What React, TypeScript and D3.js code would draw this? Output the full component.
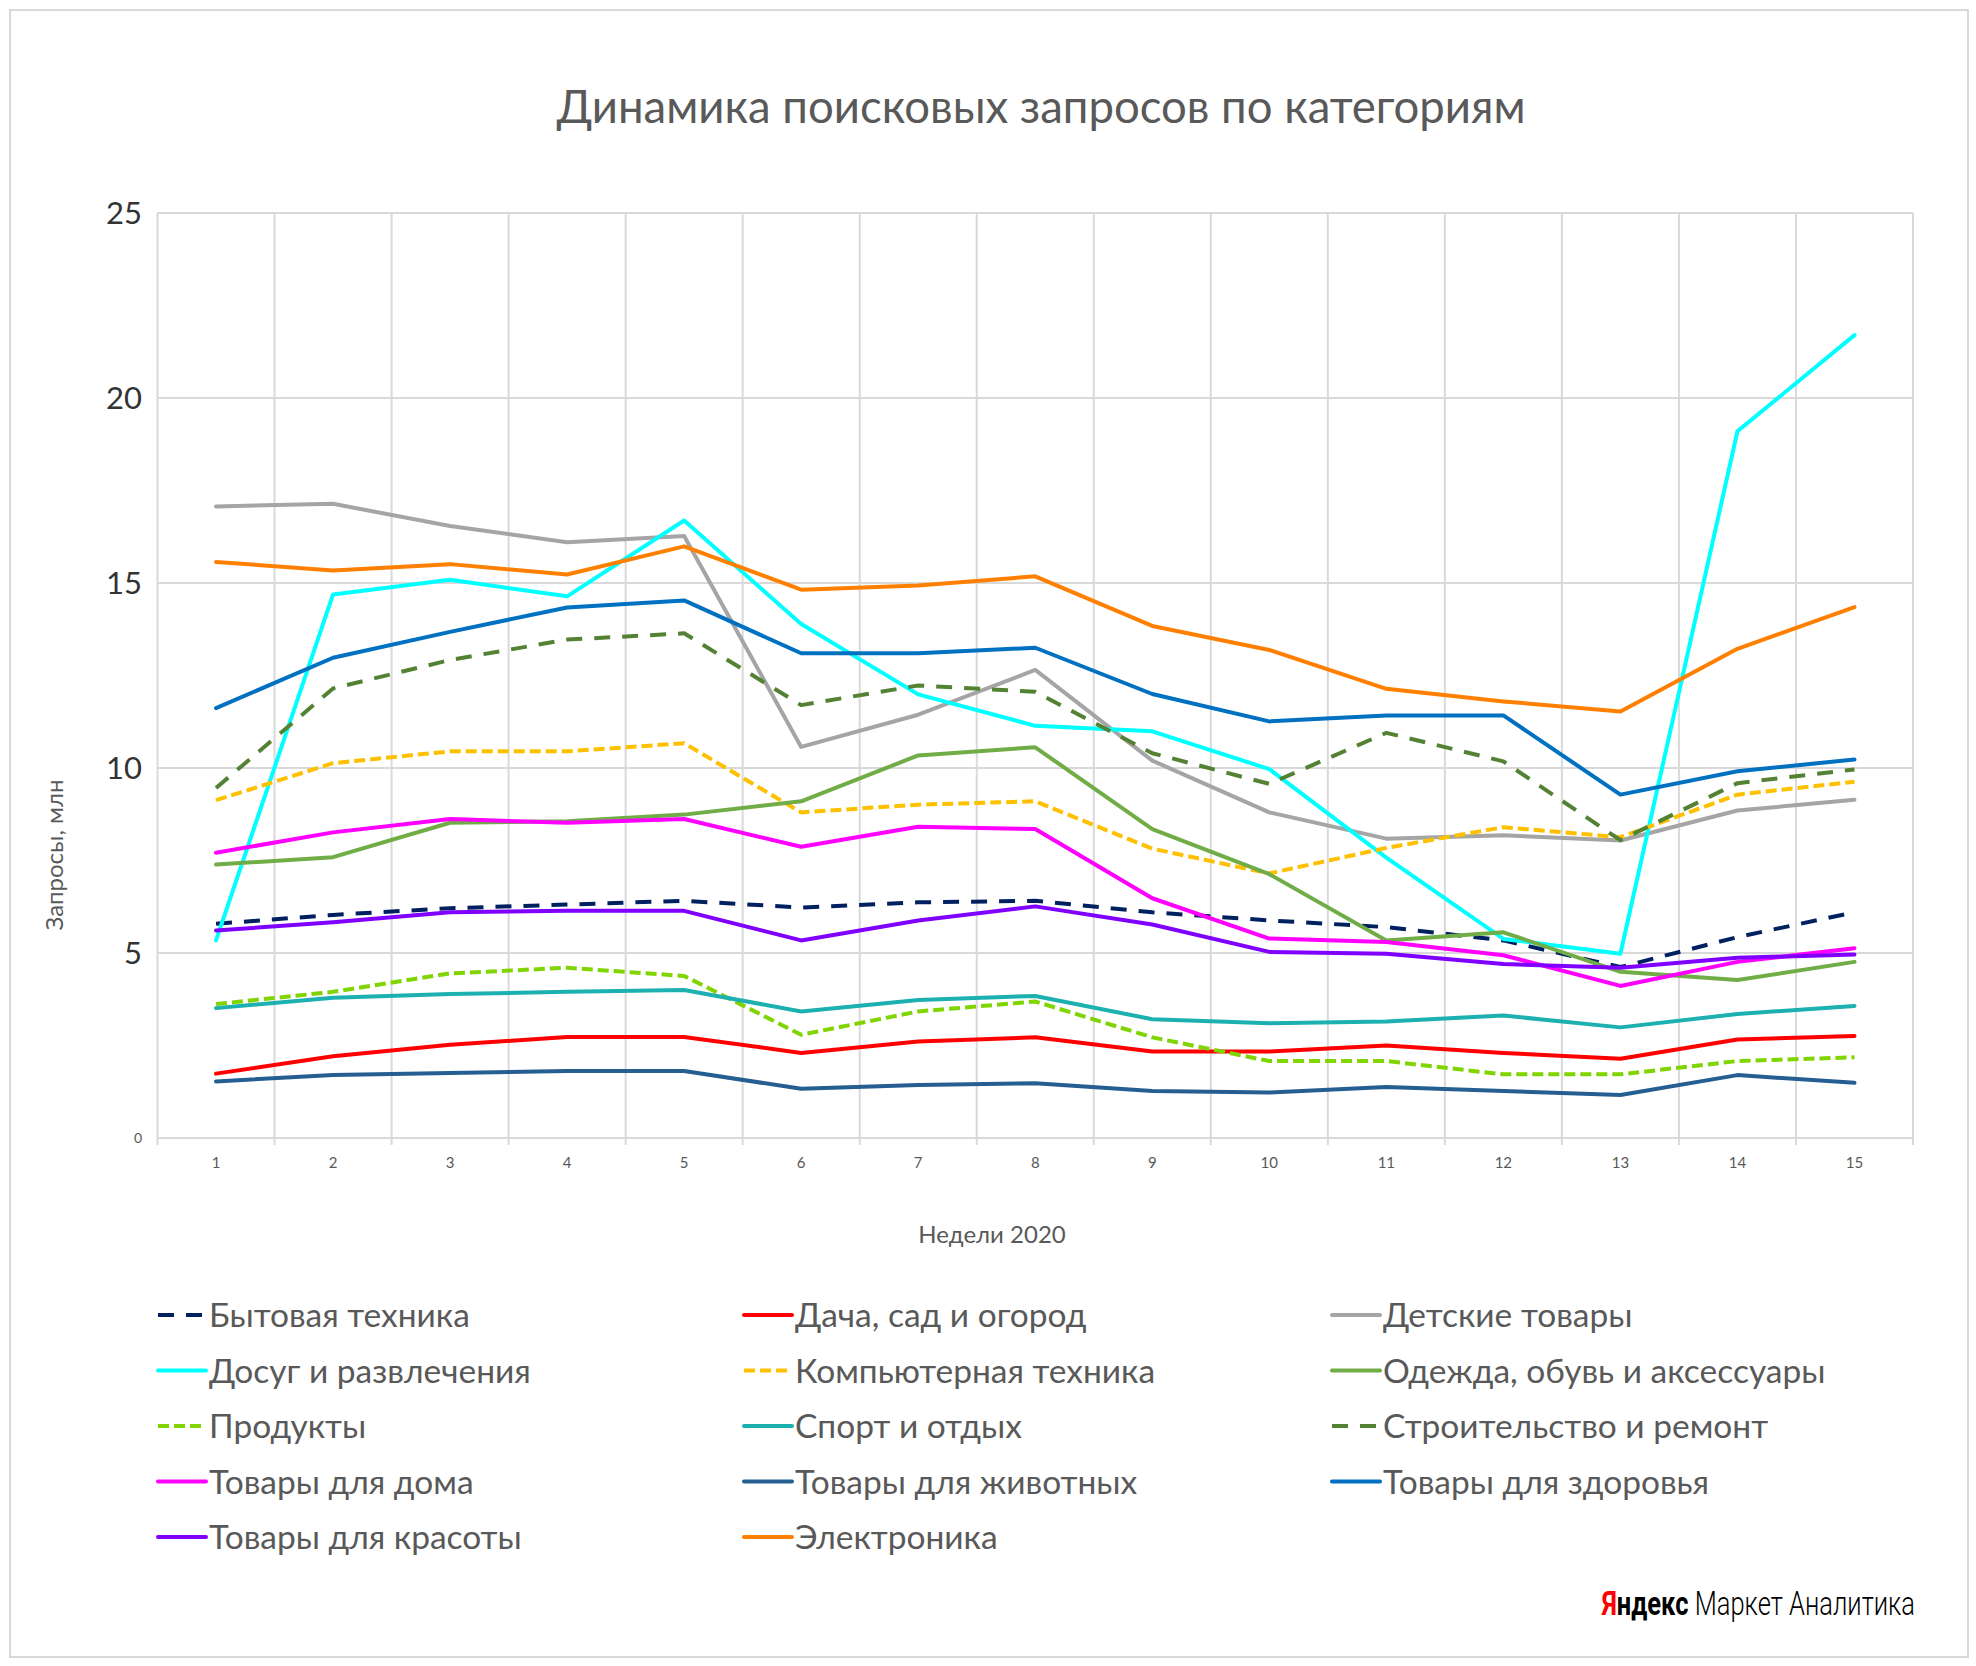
import React, { useRef, useEffect } from "react";
import * as d3 from "d3";

// weeks of 2020 on the x axis
const weeks = ["1", "2", "3", "4", "5", "6", "7", "8", "9", "10", "11", "12", "13", "14", "15"];
const yTicks = [0, 5, 10, 15, 20, 25];

// search queries, mln
const bytovaya = [5.79, 6.03, 6.21, 6.31, 6.41, 6.23, 6.37, 6.41, 6.1, 5.88, 5.7, 5.34, 4.62, 5.43, 6.1];
const dacha = [1.74, 2.21, 2.52, 2.73, 2.73, 2.3, 2.61, 2.72, 2.34, 2.34, 2.5, 2.3, 2.14, 2.66, 2.76];
const detskie = [17.07, 17.14, 16.54, 16.1, 16.27, 10.57, 11.44, 12.65, 10.2, 8.8, 8.09, 8.18, 8.04, 8.85, 9.14];
const dosug = [5.34, 14.69, 15.09, 14.64, 16.69, 13.89, 11.99, 11.14, 10.99, 9.97, 7.58, 5.38, 4.98, 19.1, 21.7];
const komp = [9.13, 10.13, 10.45, 10.45, 10.67, 8.8, 9.01, 9.1, 7.82, 7.15, 7.84, 8.4, 8.13, 9.28, 9.63];
const odezhda = [7.39, 7.59, 8.52, 8.56, 8.74, 9.1, 10.34, 10.56, 8.35, 7.13, 5.34, 5.56, 4.49, 4.27, 4.76];
const produkty = [3.62, 3.95, 4.45, 4.6, 4.38, 2.79, 3.42, 3.69, 2.72, 2.08, 2.08, 1.72, 1.72, 2.08, 2.18];
const sport = [3.51, 3.79, 3.89, 3.95, 4.0, 3.42, 3.73, 3.84, 3.21, 3.1, 3.15, 3.31, 2.99, 3.35, 3.57];
const stroika = [9.46, 12.15, 12.92, 13.47, 13.64, 11.7, 12.23, 12.06, 10.4, 9.57, 10.95, 10.18, 8.05, 9.59, 9.96];
const dom = [7.71, 8.26, 8.62, 8.52, 8.62, 7.87, 8.41, 8.35, 6.48, 5.39, 5.3, 4.94, 4.11, 4.76, 5.13];
const zhivotnye = [1.53, 1.7, 1.76, 1.81, 1.81, 1.33, 1.43, 1.48, 1.27, 1.23, 1.38, 1.27, 1.16, 1.7, 1.49];
const zdorovie = [11.62, 12.98, 13.68, 14.34, 14.53, 13.1, 13.1, 13.25, 12.0, 11.26, 11.42, 11.42, 9.28, 9.91, 10.23];
const krasota = [5.61, 5.83, 6.1, 6.14, 6.14, 5.34, 5.88, 6.26, 5.77, 5.03, 4.98, 4.7, 4.6, 4.87, 4.96];
const elektronika = [15.57, 15.34, 15.51, 15.23, 15.99, 14.82, 14.93, 15.18, 13.84, 13.19, 12.14, 11.8, 11.53, 13.22, 14.35];

const seriesNames = [
  "Бытовая техника",
  "Дача, сад и огород",
  "Детские товары",
  "Досуг и развлечения",
  "Компьютерная техника",
  "Одежда, обувь и аксессуары",
  "Продукты",
  "Спорт и отдых",
  "Строительство и ремонт",
  "Товары для дома",
  "Товары для животных",
  "Товары для здоровья",
  "Товары для красоты",
  "Электроника",
];
const seriesValues = [
  bytovaya, dacha, detskie, dosug, komp, odezhda, produkty,
  sport, stroika, dom, zhivotnye, zdorovie, krasota, elektronika,
];

const colors = [
  "#002060", "#FF0000", "#A5A5A5", "#00FFFF", "#FFC000", "#70AD47", "#80D400",
  "#1CB0B0", "#548235", "#FF00FF", "#255E91", "#0070C0", "#8000FF", "#FF8000",
];
const longDash = "16 12";
const shortDash = "11 5";
const dashes = [
  longDash, null, null, null, shortDash, null, shortDash,
  null, longDash, null, null, null, null, null,
];

const W = 1976;
const H = 1666;
const plot = { left: 157.5, right: 1913, top: 213, bottom: 1138 };
const font = "Lato, 'Noto Sans', sans-serif";
const textGrey = "#595959";

const App: React.FC = () => {
  const svgRef = useRef<SVGSVGElement | null>(null);

  useEffect(() => {
    if (!svgRef.current) return;
    const svg = d3.select(svgRef.current);
    svg.selectAll("*").remove();

    const x = d3.scaleBand<string>().domain(weeks).range([plot.left, plot.right]);
    const y = d3.scaleLinear().domain([0, 25]).range([plot.bottom, plot.top]);

    // outer frame
    svg.append("rect")
      .attr("x", 10).attr("y", 10)
      .attr("width", 1958).attr("height", 1647)
      .attr("fill", "#fff")
      .attr("stroke", "#D9D9D9")
      .attr("stroke-width", 2);

    svg.append("text")
      .attr("x", 1041).attr("y", 123)
      .attr("text-anchor", "middle")
      .attr("font-family", font)
      .attr("font-size", 45.5)
      .attr("fill", textGrey)
      .text("Динамика поисковых запросов по категориям");

    const grid = svg.append("g").attr("stroke", "#D9D9D9").attr("stroke-width", 2);

    // horizontal grid
    grid.selectAll("line.h")
      .data(yTicks)
      .enter()
      .append("line")
      .attr("x1", plot.left).attr("x2", plot.right)
      .attr("y1", (d) => y(d)).attr("y2", (d) => y(d));

    // vertical grid at band edges, with small ticks under the axis
    const edges = weeks.map((w) => x(w) as number).concat([plot.right]);
    grid.selectAll("line.v")
      .data(edges)
      .enter()
      .append("line")
      .attr("x1", (d) => d).attr("x2", (d) => d)
      .attr("y1", plot.top).attr("y2", plot.bottom + 7);

    // y tick labels (0 is drawn small, like the original)
    svg.append("g")
      .selectAll("text")
      .data(yTicks)
      .enter()
      .append("text")
      .attr("x", 142)
      .attr("y", (d) => y(d))
      .attr("dy", "0.36em")
      .attr("text-anchor", "end")
      .attr("font-family", font)
      .attr("font-size", (d) => (d === 0 ? 14 : 31))
      .attr("fill", (d) => (d === 0 ? textGrey : "#333"))
      .text((d) => d);

    // x tick labels
    svg.append("g")
      .selectAll("text")
      .data(weeks)
      .enter()
      .append("text")
      .attr("x", (d) => (x(d) as number) + x.bandwidth() / 2)
      .attr("y", 1168)
      .attr("text-anchor", "middle")
      .attr("font-family", font)
      .attr("font-size", 15)
      .attr("fill", textGrey)
      .text((d) => d);

    svg.append("text")
      .attr("transform", "translate(63,855) rotate(-90)")
      .attr("text-anchor", "middle")
      .attr("font-family", font)
      .attr("font-size", 24)
      .attr("fill", textGrey)
      .text("Запросы, млн");

    svg.append("text")
      .attr("x", 992).attr("y", 1243)
      .attr("text-anchor", "middle")
      .attr("font-family", font)
      .attr("font-size", 24)
      .attr("fill", textGrey)
      .text("Недели 2020");

    const line = d3
      .line<number>()
      .x((_, i) => (x(weeks[i]) as number) + x.bandwidth() / 2)
      .y((d) => y(d));

    const lines = svg.append("g");
    seriesValues.forEach((vals, i) => {
      lines.append("path")
        .datum(vals)
        .attr("fill", "none")
        .attr("stroke", colors[i])
        .attr("stroke-width", 4)
        .attr("stroke-linejoin", "round")
        .attr("stroke-linecap", dashes[i] ? "butt" : "round")
        .attr("stroke-dasharray", dashes[i])
        .attr("d", line);
    });

    // legend, 3 columns row by row
    const colX = [158, 744, 1332];
    const legend = svg.append("g");
    seriesNames.forEach((name, i) => {
      const cx = colX[i % 3];
      const cy = 1315 + Math.floor(i / 3) * 55.5;
      legend.append("line")
        .attr("x1", cx).attr("x2", cx + 48)
        .attr("y1", cy).attr("y2", cy)
        .attr("stroke", colors[i])
        .attr("stroke-width", 4)
        .attr("stroke-linecap", dashes[i] ? "butt" : "round")
        .attr("stroke-dasharray", dashes[i]);
      legend.append("text")
        .attr("x", cx + 51)
        .attr("y", cy)
        .attr("dy", "0.36em")
        .attr("font-family", font)
        .attr("font-size", 33.5)
        .attr("fill", textGrey)
        .text(name);
    });

    // brand line in the corner
    const brand = svg.append("text")
      .attr("transform", "translate(1915,1615) scale(0.75,1)")
      .attr("text-anchor", "end")
      .attr("font-family", "Roboto, sans-serif")
      .attr("font-size", 34)
      .attr("fill", "#000");
    brand.append("tspan").attr("fill", "#FF0000").attr("font-weight", 700).text("Я");
    brand.append("tspan").attr("font-weight", 700).text("ндекс");
    brand.append("tspan").attr("font-weight", 300).text(" Маркет Аналитика");
  }, []);

  return (
    <svg
      ref={svgRef}
      width={W}
      height={H}
      style={{ position: "absolute", left: 0, top: 0, background: "#fff" }}
    />
  );
};

export default App;
